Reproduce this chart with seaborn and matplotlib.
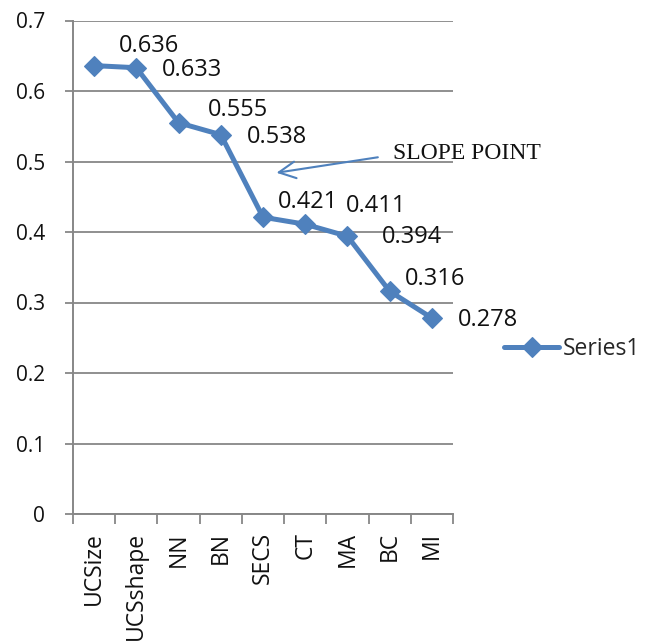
import matplotlib
matplotlib.use("Agg")
import matplotlib.pyplot as plt
import seaborn as sns
import pandas as pd
import numpy as np

# Feature ranking scores
categories = ["UCSize", "UCSshape", "NN", "BN", "SECS", "CT", "MA", "BC", "MI"]
scores = [0.636, 0.633, 0.555, 0.538, 0.421, 0.411, 0.394, 0.316, 0.278]
y_ticks = [0, 0.1, 0.2, 0.3, 0.4, 0.5, 0.6, 0.7]
y_tick_labels = ["0", "0.1", "0.2", "0.3", "0.4", "0.5", "0.6", "0.7"]
series_name = "Series1"
note_text = "SLOPE POINT"

# label placement (pixel offsets from each marker)
label_offsets = [(25, 20), (26, -2), (29, 13), (26, -2), (15, 15),
                 (41, 18), (34, -1), (15, 12), (26, -2)]

sns.set_style("white")
plt.rcParams["font.family"] = ["Open Sans", "DejaVu Sans"]

LINE = "#4F81BD"
GRID = "#878787"

fig = plt.figure(figsize=(6.47, 6.42), dpi=100)
ax = fig.add_axes([73 / 647, 1 - 514 / 642, (453 - 73) / 647, (514 - 20.5) / 642])

df = pd.DataFrame({"feature": categories, "score": scores})
df["pos"] = np.arange(len(df))
sns.lineplot(data=df, x="pos", y="score", ax=ax, sort=False, color=LINE,
             linewidth=3.6, marker="D", markersize=10.5,
             markeredgecolor=LINE, markeredgewidth=0.8, label=series_name,
             legend=False)

ax.set_xlim(-0.5, len(categories) - 0.5)
ax.set_ylim(0, 0.7)
ax.set_xlabel("")
ax.set_ylabel("")

# y axis
ax.set_yticks(y_ticks)
ax.set_yticklabels(y_tick_labels)
ax.yaxis.grid(True, color=GRID, linewidth=1.3)
ax.tick_params(axis="y", length=6, width=1.3, color=GRID, pad=14,
               labelsize=15, labelcolor="#111111", left=True)

# x axis: labels at category centres, tick marks between categories
ax.set_xticks(np.arange(len(categories)))
ax.set_xticklabels(categories, rotation=90, va="top", ha="center")
ax.set_xticks(np.arange(len(categories) + 1) - 0.5, minor=True)
ax.tick_params(axis="x", which="major", length=0, pad=13, labelsize=16.5,
               labelcolor="#111111")
ax.tick_params(axis="x", which="minor", length=7, width=1.3, color=GRID,
               bottom=True)
ax.xaxis.grid(False)

for side in ["top", "right"]:
    ax.spines[side].set_visible(False)
for side in ["left", "bottom"]:
    ax.spines[side].set_color(GRID)
    ax.spines[side].set_linewidth(1.4)

# value labels
for i, (v, off) in enumerate(zip(scores, label_offsets)):
    ax.annotate(f"{v:.3f}", xy=(i, v), xytext=off, textcoords="offset pixels",
                ha="left", va="center", fontsize=17, color="#111111")

# slope annotation
ax.annotate("", xy=(4.32, 0.484), xytext=(6.72, 0.506),
            arrowprops=dict(arrowstyle="->,head_length=0.6,head_width=0.3",
                            color=LINE, lw=1.5, mutation_scale=20,
                            shrinkA=0, shrinkB=0),
            annotation_clip=False)
ax.text(7.07, 0.511, note_text, ha="left", va="center", fontsize=17,
        family="Liberation Serif", color="#111111", clip_on=False)

# legend to the right of the plot
handles, labels = ax.get_legend_handles_labels()
fig.legend(handles, labels, loc="center left", bbox_to_anchor=(504 / 647, 1 - 349 / 642),
           frameon=False, fontsize=16.5, handlelength=2.4, handletextpad=0.15,
           borderpad=0, borderaxespad=0)

fig.savefig("out.png", dpi=100)
